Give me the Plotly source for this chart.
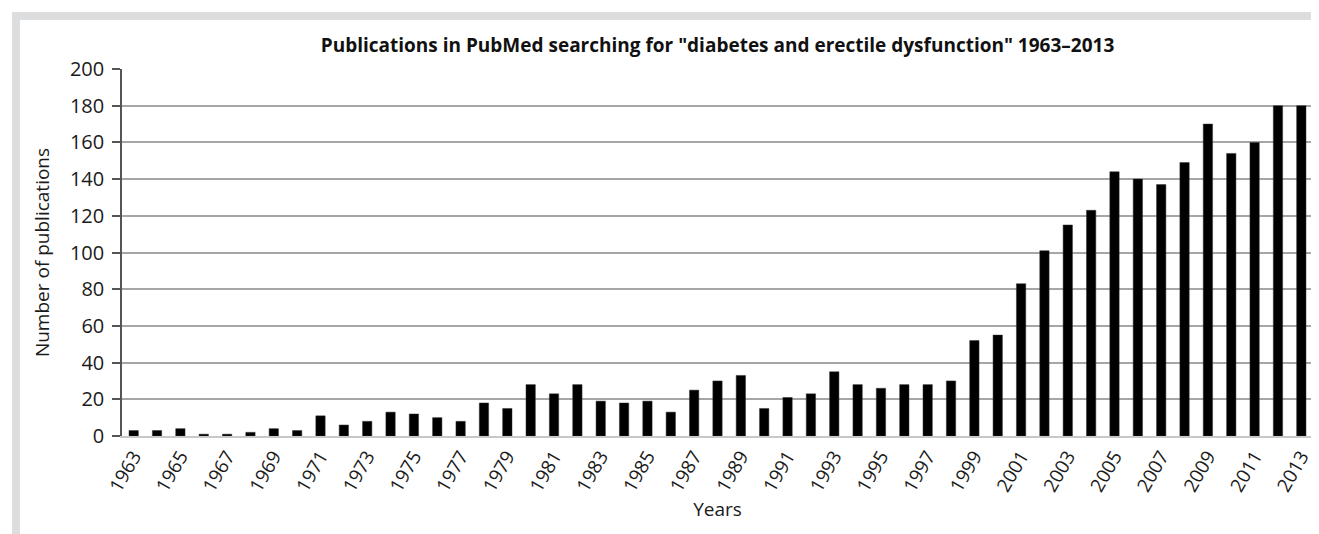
import plotly.graph_objects as go

years = [str(y) for y in range(1963, 2014)]
publications = [3, 3, 4, 1, 1, 2, 4, 3, 11, 6, 8, 13, 12, 10, 8, 18, 15,
                28, 23, 28, 19, 18, 19, 13, 25, 30, 33, 15, 21, 23, 35, 28,
                26, 28, 28, 30, 52, 55, 83, 101, 115, 123, 144, 140, 137,
                149, 170, 154, 160, 180, 180]
tick_labels = years[::2]
title_text = 'Publications in PubMed searching for "diabetes and erectile dysfunction" 1963\u20132013'

# The page body has an 8px default margin, so the figure is drawn 8px smaller
# and every reference pixel position is shifted by that offset.
OFF = 8
W, H = 1319 - OFF, 534 - OFF
L, R, T, B = 122 - OFF, 6, 69 - OFF, 98
PW, PH = W - L - R, H - T - B


def px_x(p):
    return (p - OFF - L) / PW


def px_y(p):
    return (H - B - (p - OFF)) / PH


FONT = "Open Sans"
frame_color = "#dcdddf"

fig = go.Figure(
    go.Bar(x=years, y=publications, marker=dict(color="#000000",
           line=dict(color="#333333", width=0.5)), width=0.4)
)

fig.update_layout(
    width=W, height=H,
    margin=dict(l=L, r=R, t=T, b=B, autoexpand=False),
    paper_bgcolor="white", plot_bgcolor="white",
    showlegend=False,
    font=dict(family=FONT, size=19, color="#1a1a1a"),
    title=dict(text="<b>" + title_text + "</b>", x=0.5, xref="paper",
               y=1 - (45 - OFF) / H, yanchor="middle", xanchor="center",
               font=dict(family=FONT, size=19, color="#111111")),
    shapes=[
        dict(type="rect", xref="paper", yref="paper", layer="below",
             x0=px_x(12), x1=px_x(1319 + 10), y0=px_y(20), y1=px_y(12),
             fillcolor=frame_color, line=dict(width=0)),
        dict(type="rect", xref="paper", yref="paper", layer="below",
             x0=px_x(12), x1=px_x(20), y0=px_y(534 + 10), y1=px_y(12),
             fillcolor=frame_color, line=dict(width=0)),
    ],
)

fig.update_xaxes(
    type="category", automargin=False,
    tickmode="array", tickvals=tick_labels, ticktext=tick_labels,
    tickangle=-60, ticks="",
    showline=True, linecolor="#c8c8c8", linewidth=1.5,
    showgrid=False,
    title=dict(text="Years", standoff=4, font=dict(size=19)),
    tickfont=dict(size=19),
)

fig.update_yaxes(
    range=[0, 200], dtick=20, tick0=0, automargin=False,
    showline=True, linecolor="#555555", linewidth=1.5,
    ticks="outside", ticklen=8, tickcolor="#555555", tickwidth=1.5,
    ticklabelstandoff=4,
    showgrid=True, gridcolor="#a6a6a6", gridwidth=1.5,
    zeroline=False,
    title=dict(text="Number of publications", standoff=15, font=dict(size=19)),
    tickfont=dict(size=20),
)

fig.write_html("out.html")
